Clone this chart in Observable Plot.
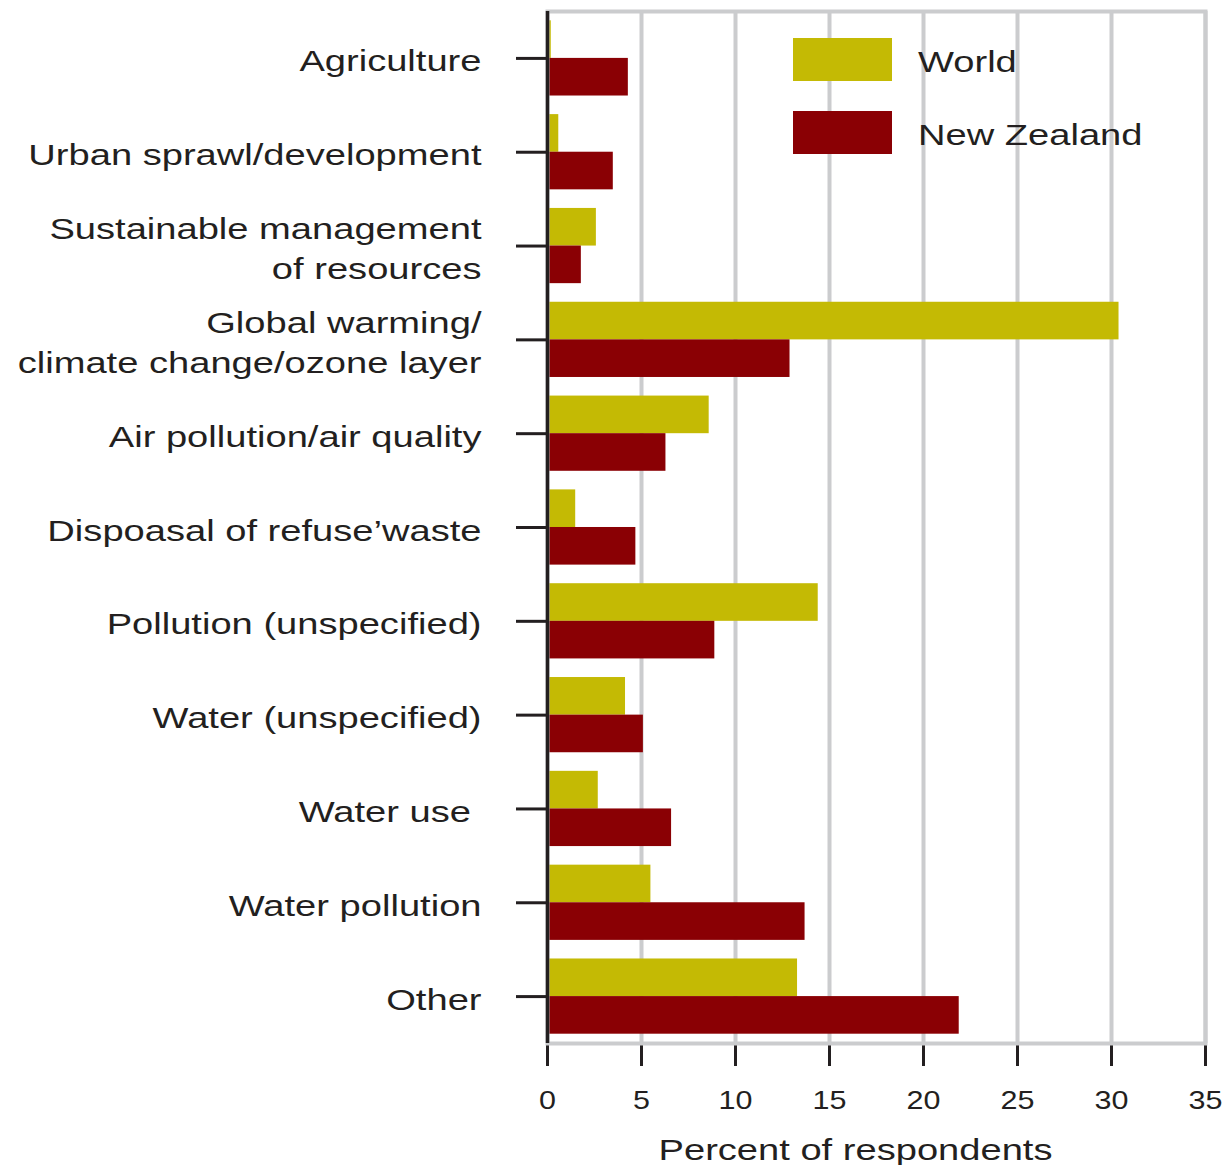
<!DOCTYPE html>
<html>
<head>
<meta charset="utf-8">
<script src="https://cdn.jsdelivr.net/npm/d3@7"></script>
<script src="https://cdn.jsdelivr.net/npm/@observablehq/plot@0.6"></script>
<style>
  body { margin: 0; background: #fff; }
  #chart svg { display: block; }
</style>
</head>
<body>
<div id="chart"></div>
<script>
// ---- data ----
const categories = [
  "Agriculture",
  "Urban sprawl/development",
  "Sustainable management\nof resources",
  "Global warming/\nclimate change/ozone layer",
  "Air pollution/air quality",
  "Dispoasal of refuse\u2019waste",
  "Pollution (unspecified)",
  "Water (unspecified)",
  "Water use\u00a0",
  "Water pollution",
  "Other"
];
const world      = [0.2, 0.6, 2.6, 30.4, 8.6, 1.5, 14.4, 4.15, 2.7, 5.5, 13.3];
const newZealand = [4.3, 3.5, 1.8, 12.9, 6.3, 4.7, 8.9, 5.1, 6.6, 13.7, 21.9];
const xTicks = [0, 5, 10, 15, 20, 25, 30, 35];
const seriesNames = ["World", "New Zealand"];
const seriesColors = ["#c4ba04", "#8a0004"];
const xLabel = "Percent of respondents";

const rows = categories.map((c, i) => ({category: c, world: world[i], nz: newZealand[i]}));

const ink = "#231f20";
const grid = "#cbccce";
const fontFamily = "'Liberation Sans', Arial, Helvetica, sans-serif";

const plot = Plot.plot({
  width: 1224,
  height: 1165,
  marginLeft: 547,
  marginRight: 19,
  marginTop: 11,
  marginBottom: 122,
  style: {fontFamily, background: "#fff", color: ink},
  x: {domain: [0, 35]},
  y: {domain: categories, padding: 0, round: false},
  marks: [
    Plot.gridX(xTicks.slice(1), {stroke: grid, strokeWidth: 4, strokeOpacity: 1}),
    Plot.barX(rows, {y: "category", x: "world", fill: seriesColors[0], insetTop: 9.3, insetBottom: 46.9}),
    Plot.barX(rows, {y: "category", x: "nz", fill: seriesColors[1], insetTop: 46.9, insetBottom: 9.3}),
    Plot.axisX({ticks: xTicks, tickSize: 23, tickPadding: 25, fontSize: 25, strokeWidth: 3, label: null, stroke: ink}),
    Plot.frame({stroke: grid, strokeWidth: 4}),
    Plot.ruleX([0], {stroke: ink, strokeWidth: 3.5}),
    Plot.axisY({tickSize: 31, tickPadding: 35, fontSize: 30, strokeWidth: 3, lineHeight: 1.36, label: null, stroke: ink}),
    Plot.text([xLabel], {frameAnchor: "bottom", dx: -21, dy: 116, fontSize: 30, fill: ink, className: "xlabel"})
  ]
});

document.getElementById("chart").appendChild(plot);

const svg = d3.select(plot);

// legend
const legendRows = seriesNames.map((name, i) => ({name, color: seriesColors[i], i}));
const lg = svg.append("g").attr("class", "legend");
lg.selectAll("rect").data(legendRows).join("rect")
  .attr("x", 793).attr("y", d => 38 + d.i * 73)
  .attr("width", 99).attr("height", 43)
  .attr("fill", d => d.color);
lg.selectAll("text").data(legendRows).join("text")
  .attr("x", 918).attr("y", d => 61 + d.i * 73)
  .attr("dy", "0.35em")
  .attr("text-anchor", "start")
  .attr("font-size", 30)
  .attr("fill", ink)
  .attr("font-family", fontFamily)
  .text(d => d.name);

// widen glyphs horizontally to match the stretched type of the original
function stretch(nodes, k) {
  nodes.forEach(node => {
    const tspans = node.querySelectorAll("tspan");
    const targets = tspans.length ? Array.from(tspans) : [node];
    targets.forEach(t => {
      const L = t.getComputedTextLength();
      if (L > 0) {
        t.setAttribute("textLength", L * k);
        t.setAttribute("lengthAdjust", "spacingAndGlyphs");
      }
    });
  });
}
const allTexts = Array.from(plot.querySelectorAll("text"));
const legendTexts = Array.from(lg.node().querySelectorAll("text"));
const xAxisTexts = allTexts.filter(t => t.closest("g[aria-label='x-axis tick label']"));
const yAxisTexts = allTexts.filter(t => t.closest("g[aria-label='y-axis tick label']"));
const labelTexts = allTexts.filter(t => t.closest(".xlabel") || (t.parentNode && t.parentNode.getAttribute("class") === "xlabel"));
stretch(yAxisTexts, 1.27);
stretch(xAxisTexts, 1.22);
stretch(labelTexts, 1.27);
stretch(legendTexts, 1.27);
</script>
</body>
</html>
